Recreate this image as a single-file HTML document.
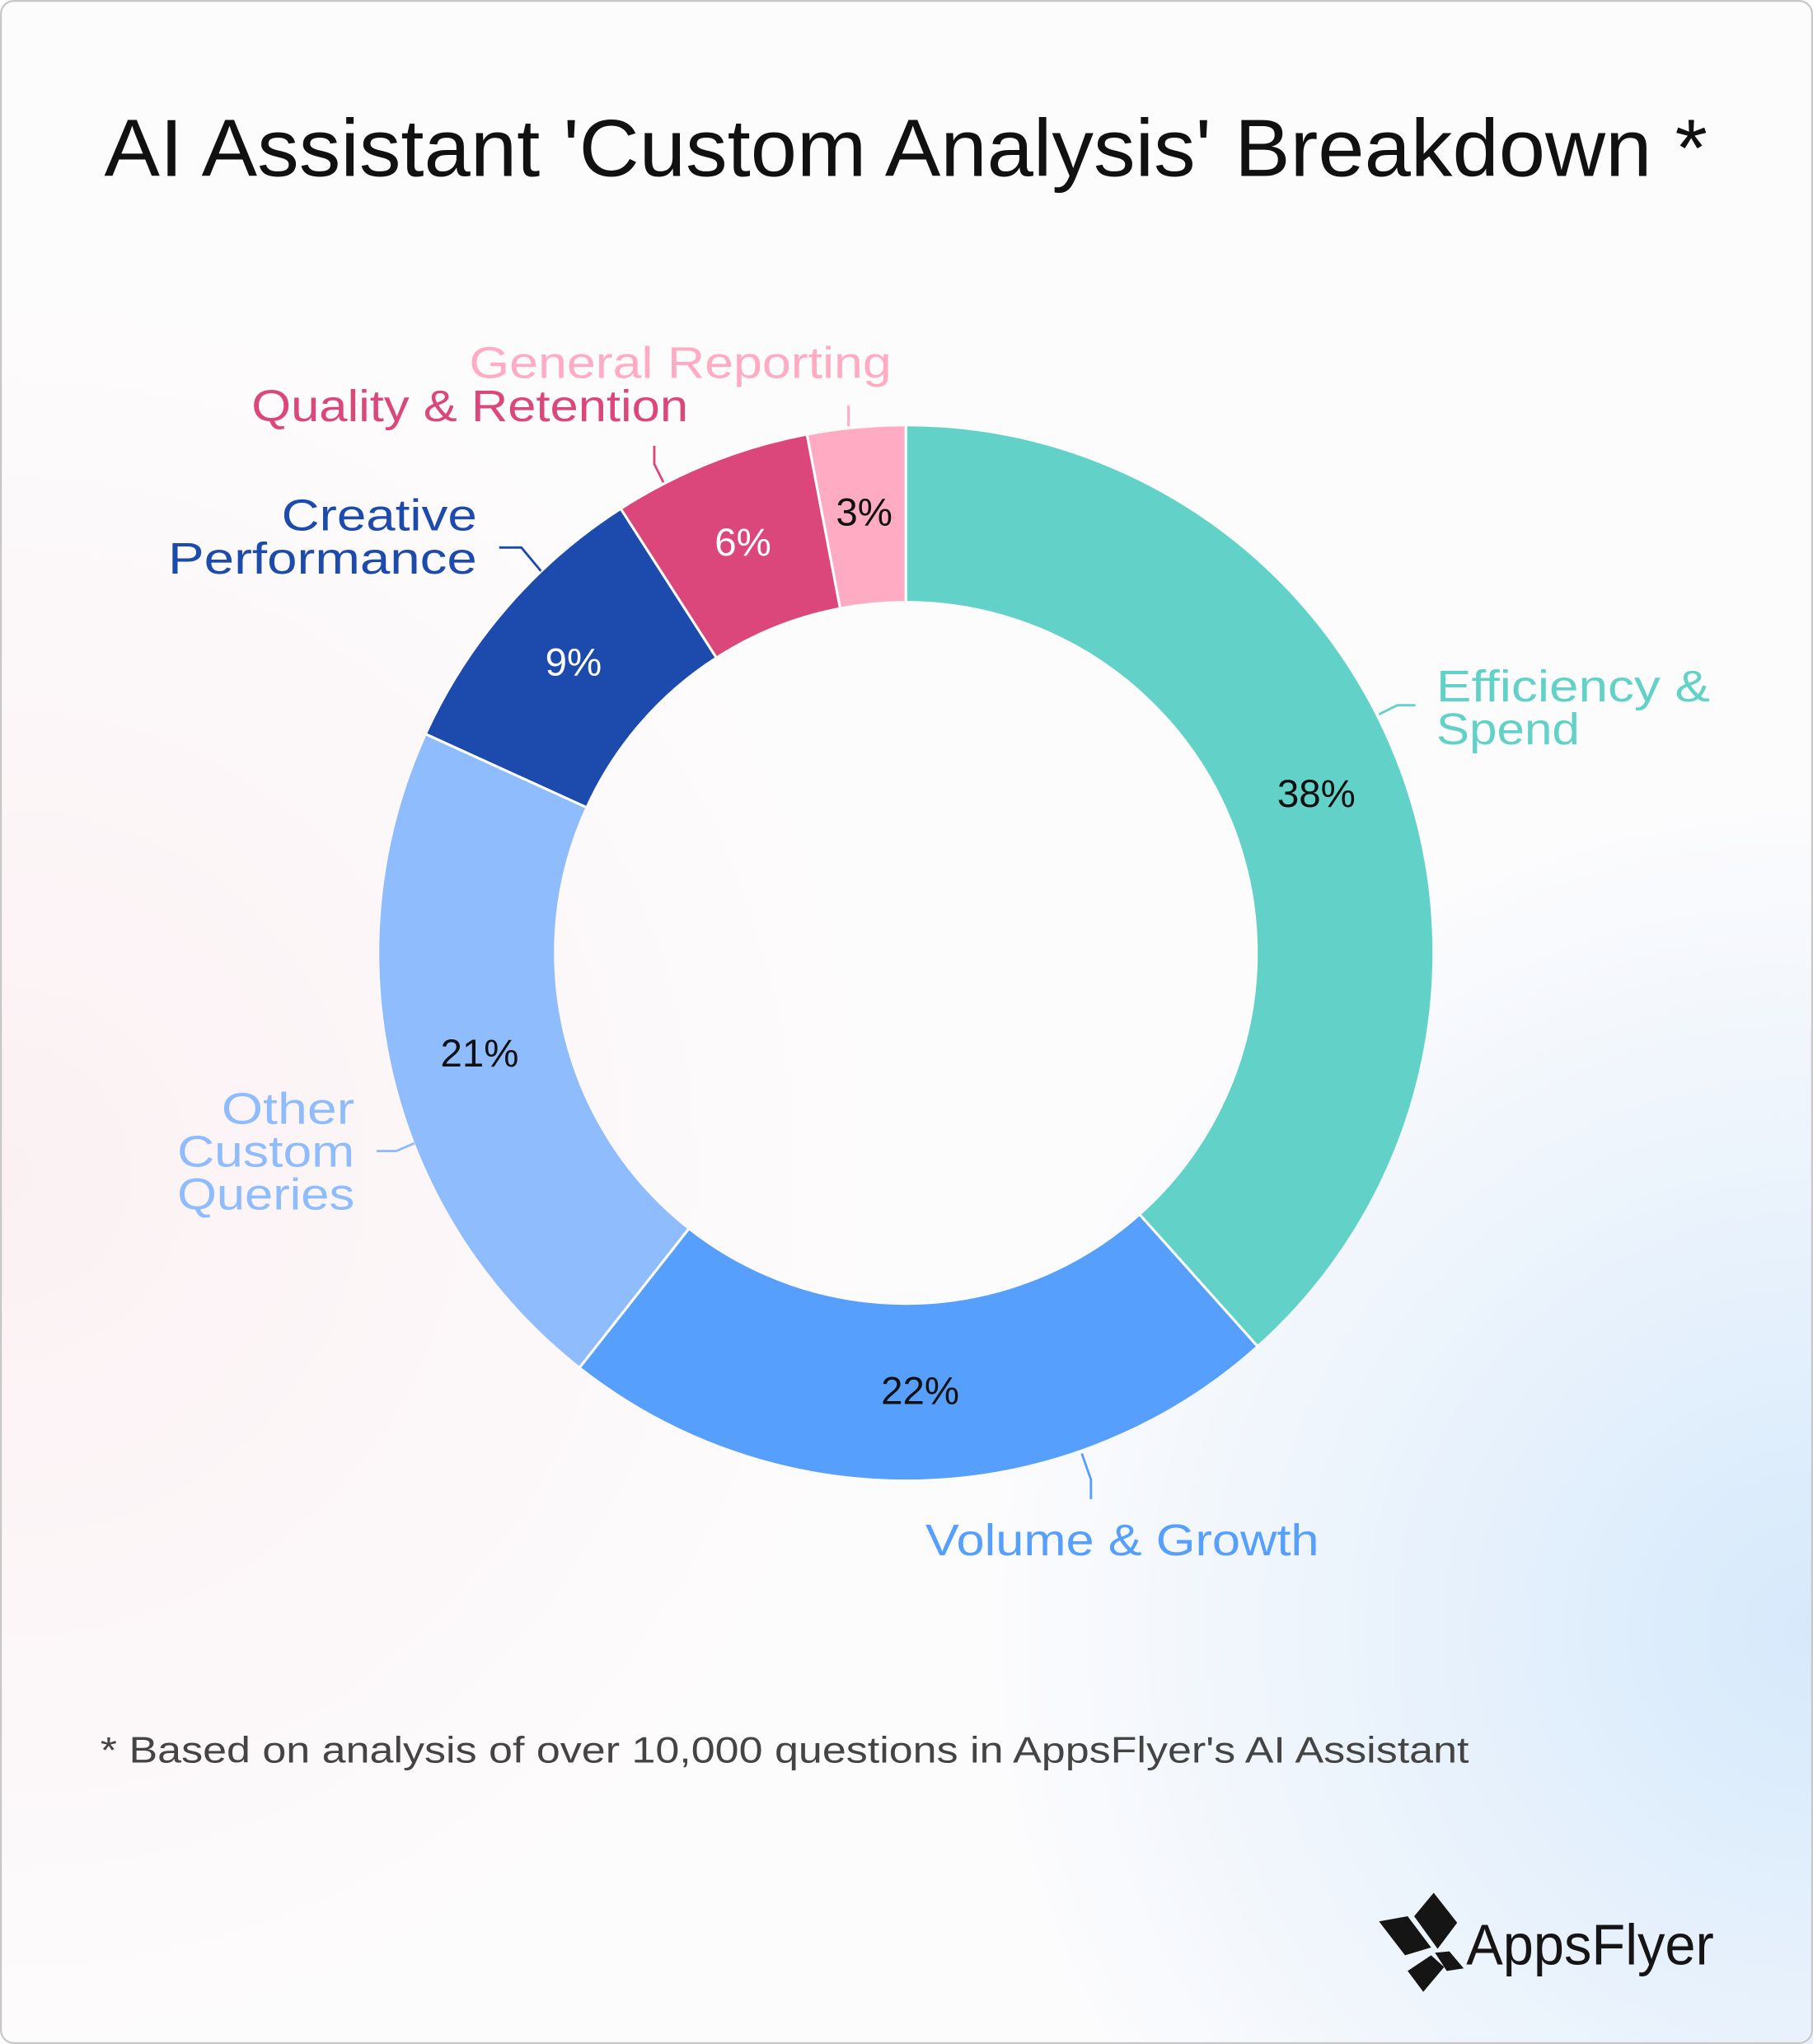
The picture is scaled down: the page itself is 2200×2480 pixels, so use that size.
<!DOCTYPE html>
<html><head><meta charset="utf-8"><style>
html,body{margin:0;padding:0;width:2200px;height:2480px;overflow:hidden;background:#fff}
svg{display:block}
text{font-family:"Liberation Sans",sans-serif}
</style></head><body>
<svg width="2200" height="2480" viewBox="0 0 1391 1568" xmlns="http://www.w3.org/2000/svg">
<defs>
<radialGradient id="bl" cx="1391" cy="1250" r="650" gradientUnits="userSpaceOnUse">
<stop offset="0" stop-color="#d6e9fb"/><stop offset="1" stop-color="#d6e9fb" stop-opacity="0"/></radialGradient>
<radialGradient id="pk" cx="0" cy="900" r="700" gradientUnits="userSpaceOnUse">
<stop offset="0" stop-color="#fbf1f3"/><stop offset="1" stop-color="#fbf1f3" stop-opacity="0"/></radialGradient>
</defs>
<rect x="0" y="0" width="1391" height="1568" fill="#fdfcfd"/>
<rect x="0" y="0" width="1391" height="1568" fill="url(#pk)"/>
<rect x="0" y="0" width="1391" height="1568" fill="url(#bl)"/>
<rect x="0.7" y="0.7" width="1389.6" height="1566.6" rx="10" fill="none" stroke="#c8c8c8" stroke-width="1.4"/>

<text x="80" y="135" font-size="62" fill="#111" textLength="1230" lengthAdjust="spacingAndGlyphs">AI Assistant 'Custom Analysis' Breakdown *</text>

<g fill="none" stroke-width="134" transform="rotate(-90 695 731)">
<circle cx="695" cy="731" r="337" stroke="#62d2c9" stroke-dasharray="813.1 2117.4" stroke-dashoffset="0"/>
<circle cx="695" cy="731" r="337" stroke="#579ffd" stroke-dasharray="470.1 2117.4" stroke-dashoffset="-813.1"/>
<circle cx="695" cy="731" r="337" stroke="#8fbcfd" stroke-dasharray="448.9 2117.4" stroke-dashoffset="-1283.2"/>
<circle cx="695" cy="731" r="337" stroke="#1c4bad" stroke-dasharray="192.7 2117.4" stroke-dashoffset="-1732.1"/>
<circle cx="695" cy="731" r="337" stroke="#dc477b" stroke-dasharray="129.2 2117.4" stroke-dashoffset="-1924.8"/>
<circle cx="695" cy="731" r="337" stroke="#ffabc4" stroke-dasharray="63.6 2117.4" stroke-dashoffset="-2053.9"/>
</g>
<g stroke="#fff" stroke-width="2">
<line x1="695" y1="325" x2="695" y2="463"/>
<line x1="695" y1="325" x2="695" y2="463" transform="rotate(138.2 695 731)"/>
<line x1="695" y1="325" x2="695" y2="463" transform="rotate(218.2 695 731)"/>
<line x1="695" y1="325" x2="695" y2="463" transform="rotate(294.5 695 731)"/>
<line x1="695" y1="325" x2="695" y2="463" transform="rotate(327.3 695 731)"/>
<line x1="695" y1="325" x2="695" y2="463" transform="rotate(349.2 695 731)"/>
</g>

<g font-size="30" text-anchor="middle">
<text x="1010" y="619" fill="#111">38%</text>
<text x="706" y="1077" fill="#111">22%</text>
<text x="368" y="818" fill="#111">21%</text>
<text x="440" y="518" fill="#fff">9%</text>
<text x="570" y="426" fill="#fff">6%</text>
<text x="663" y="403" fill="#111">3%</text>
</g>

<g fill="none" stroke-width="1.8">
<polyline points="1058,548 1072,541 1086,541" stroke="#62d2c9"/>
<polyline points="830,1115 837,1135 837,1150" stroke="#579ffd"/>
<polyline points="318,877 304,883 289,883" stroke="#8fbcfd"/>
<polyline points="415,438 400,420 383,420" stroke="#1c4bad"/>
<polyline points="509,370 502,356 502,342" stroke="#dc477b"/>
<polyline points="651,327 651,311" stroke="#ffabc4"/>
</g>

<g font-size="34" lengthAdjust="spacingAndGlyphs">
<text x="1102" y="538" fill="#62d2c9" textLength="210" lengthAdjust="spacingAndGlyphs">Efficiency &amp;</text>
<text x="1102" y="571" fill="#62d2c9" textLength="110" lengthAdjust="spacingAndGlyphs">Spend</text>
<text x="710" y="1193" fill="#579ffd" textLength="302" lengthAdjust="spacingAndGlyphs">Volume &amp; Growth</text>
<text x="170" y="862" fill="#8fbcfd" textLength="102" lengthAdjust="spacingAndGlyphs">Other</text>
<text x="136" y="895" fill="#8fbcfd" textLength="136" lengthAdjust="spacingAndGlyphs">Custom</text>
<text x="136" y="928" fill="#8fbcfd" textLength="136" lengthAdjust="spacingAndGlyphs">Queries</text>
<text x="216" y="407" fill="#1c4bad" textLength="150" lengthAdjust="spacingAndGlyphs">Creative</text>
<text x="129" y="440" fill="#1c4bad" textLength="237" lengthAdjust="spacingAndGlyphs">Performance</text>
<text x="193" y="323" fill="#dc477b" textLength="335" lengthAdjust="spacingAndGlyphs">Quality &amp; Retention</text>
<text x="360" y="290" fill="#ffabc4" textLength="324" lengthAdjust="spacingAndGlyphs">General Reporting</text>
</g>

<text x="77" y="1352" font-size="28" fill="#444" textLength="1050" lengthAdjust="spacingAndGlyphs">* Based on analysis of over 10,000 questions in AppsFlyer's AI Assistant</text>

<g fill="#151515">
<polygon points="1058,1474 1080,1470 1098,1494 1078,1500"/>
<polygon points="1085,1470 1100,1452 1118,1475 1103,1495"/>
<polygon points="1080,1512 1098,1500 1108,1509 1092,1528"/>
<polygon points="1101,1498 1112,1497 1123,1510 1110,1512"/>
</g>
<text x="1125" y="1507" font-size="44" fill="#151515" textLength="190" lengthAdjust="spacingAndGlyphs">AppsFlyer</text>
</svg>
</body></html>
